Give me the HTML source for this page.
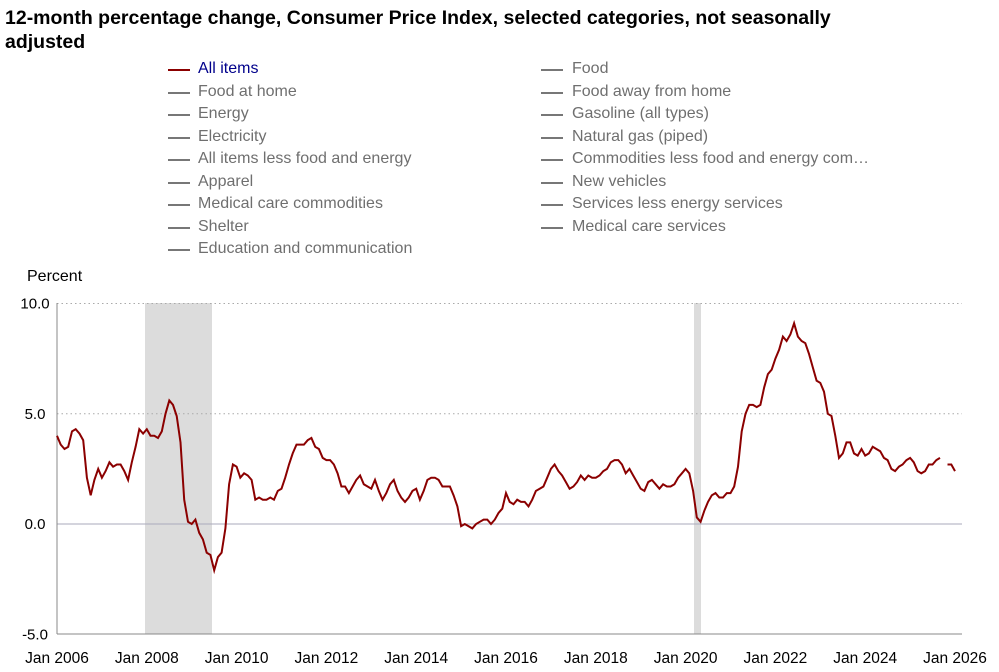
<!DOCTYPE html>
<html><head><meta charset="utf-8"><style>
body{margin:0;background:#fff;width:999px;height:672px;overflow:hidden;font-family:"Liberation Sans",sans-serif}
.t{position:absolute;left:5px;top:6px;font-size:19.5px;font-weight:bold;color:#000;line-height:24px;width:900px}
.lg{position:absolute;font-size:16px;color:#6f6f6f}
.lg span{position:absolute;white-space:nowrap}
.ln{position:absolute;height:2px;width:22px;background:#777}
</style></head><body>
<div class="t">12-month percentage change, Consumer Price Index, selected categories, not seasonally adjusted</div>
<div class="lg" id="lg"></div>
<svg width="999" height="672" style="position:absolute;left:0;top:0" id="s" font-family="Liberation Sans, sans-serif"></svg>
<script>
var L=["All items","Food at home","Energy","Electricity","All items less food and energy","Apparel","Medical care commodities","Shelter","Education and communication"];
var R=["Food","Food away from home","Gasoline (all types)","Natural gas (piped)","Commodities less food and energy com…","New vehicles","Services less energy services","Medical care services"];
var h="";
L.forEach(function(a,i){var y=60+i*22.5;h+='<div class="ln" style="left:168px;top:'+(y+9)+'px;'+(i==0?'background:#8b0000':'')+'"></div><span style="left:198px;top:'+y+'px;'+(i==0?'color:#00008b':'')+'">'+a+'</span>';});
R.forEach(function(a,i){var y=60+i*22.5;h+='<div class="ln" style="left:541px;top:'+(y+9)+'px"></div><span style="left:572px;top:'+y+'px">'+a+'</span>';});
document.getElementById("lg").innerHTML=h;
var d=[4.0,3.6,3.4,3.5,4.2,4.3,4.1,3.8,2.1,1.3,2.0,2.5,
2.1,2.4,2.8,2.6,2.7,2.7,2.4,2.0,2.8,3.5,4.3,4.1,
4.3,4.0,4.0,3.9,4.2,5.0,5.6,5.4,4.9,3.7,1.1,0.1,
0.0,0.2,-0.4,-0.7,-1.3,-1.4,-2.1,-1.5,-1.3,-0.2,1.8,2.7,
2.6,2.1,2.3,2.2,2.0,1.1,1.2,1.1,1.1,1.2,1.1,1.5,
1.6,2.1,2.7,3.2,3.6,3.6,3.6,3.8,3.9,3.5,3.4,3.0,
2.9,2.9,2.7,2.3,1.7,1.7,1.4,1.7,2.0,2.2,1.8,1.7,
1.6,2.0,1.5,1.1,1.4,1.8,2.0,1.5,1.2,1.0,1.2,1.5,
1.6,1.1,1.5,2.0,2.1,2.1,2.0,1.7,1.7,1.7,1.3,0.8,
-0.1,0.0,-0.1,-0.2,0.0,0.1,0.2,0.2,0.0,0.2,0.5,0.7,
1.4,1.0,0.9,1.1,1.0,1.0,0.8,1.1,1.5,1.6,1.7,2.1,
2.5,2.7,2.4,2.2,1.9,1.6,1.7,1.9,2.2,2.0,2.2,2.1,
2.1,2.2,2.4,2.5,2.8,2.9,2.9,2.7,2.3,2.5,2.2,1.9,
1.6,1.5,1.9,2.0,1.8,1.6,1.8,1.7,1.7,1.8,2.1,2.3,
2.5,2.3,1.5,0.3,0.1,0.6,1.0,1.3,1.4,1.2,1.2,1.4,
1.4,1.7,2.6,4.2,5.0,5.4,5.4,5.3,5.4,6.2,6.8,7.0,
7.5,7.9,8.5,8.3,8.6,9.1,8.5,8.3,8.2,7.7,7.1,6.5,
6.4,6.0,5.0,4.9,4.0,3.0,3.2,3.7,3.7,3.2,3.1,3.4,
3.1,3.2,3.5,3.4,3.3,3.0,2.9,2.5,2.4,2.6,2.7,2.9,
3.0,2.8,2.4,2.3,2.4,2.7,2.7,2.9,3.0,null,2.7,2.7,2.4];
function X(m){return 57+m*898/240}function Y(v){return 524-v*22.05}
var s='';
s+='<rect x="145" y="303" width="67" height="331" fill="#dcdcdc"/><rect x="694" y="303" width="7" height="331" fill="#dcdcdc"/>';
[10,5].forEach(function(v){s+='<line x1="57" x2="962" y1="'+Y(v)+'" y2="'+Y(v)+'" stroke="#aaa" stroke-dasharray="1.5,3"/>';});
s+='<line x1="57" x2="962" y1="'+Y(0)+'" y2="'+Y(0)+'" stroke="#aab"/>';
s+='<line x1="57" x2="57" y1="303" y2="634" stroke="#888"/><line x1="57" x2="962" y1="634" y2="634" stroke="#888"/>';
[["10.0",10],["5.0",5],["0.0",0],["-5.0",-5]].forEach(function(a){s+='<text x="35" y="'+(Y(a[1])+5)+'" font-size="15" text-anchor="middle" fill="#000">'+a[0]+'</text>';});
s+='<text x="27" y="281" font-size="16" fill="#000">Percent</text>';
for(var y=2006;y<=2026;y+=2)s+='<text x="'+X((y-2006)*12)+'" y="663" font-size="15.5" text-anchor="middle" fill="#000">Jan '+y+'</text>';
var p='',st=false;d.forEach(function(v,i){if(v===null){st=false;return;}p+=(st?'L':'M')+X(i).toFixed(1)+' '+Y(v).toFixed(1);st=true;});
s+='<path d="'+p+'" fill="none" stroke="#8b0000" stroke-width="2"/>';
document.getElementById("s").innerHTML=s;
</script>
</body></html>
